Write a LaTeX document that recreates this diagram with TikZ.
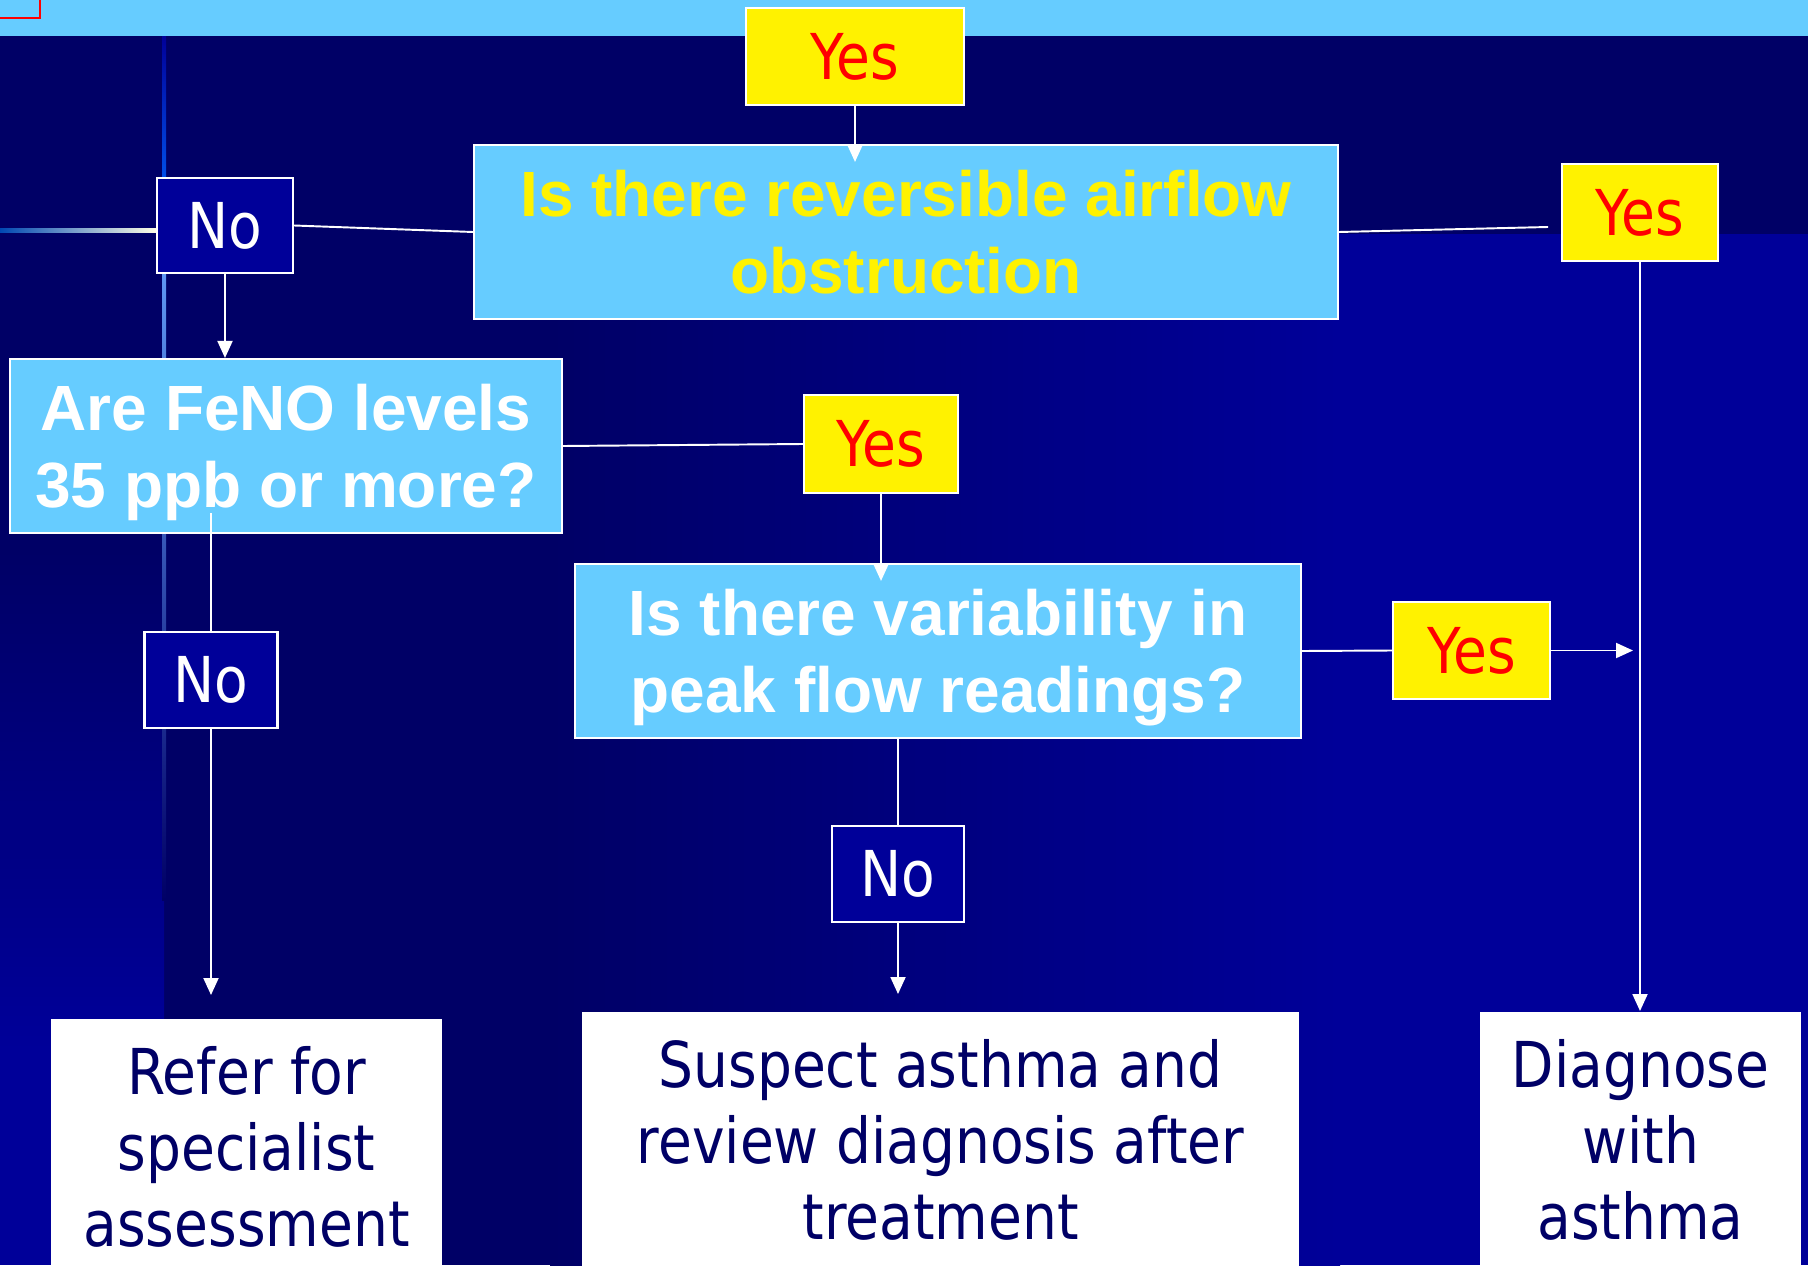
\documentclass[tikz,border=0pt]{standalone}
\usepackage{fontspec}
\setmainfont{Liberation Sans}
\newfontfamily\tahfont{DejaVu Sans}[FakeStretch=0.87]
\usetikzlibrary{arrows.meta}

\definecolor{slidenavy}{HTML}{000066}
\definecolor{slideblue}{HTML}{000099}
\definecolor{skyblue}{HTML}{66CCFF}
\definecolor{glowblue}{HTML}{0066FF}
\newcommand{\qfont}{\fontsize{18.2}{21.9}\selectfont\bfseries}
\newcommand{\lblfont}{\tahfont\fontsize{18}{21.6}\selectfont}

\begin{document}
\begin{tikzpicture}[
        qbox/.style={draw=white, line width=0.6pt, fill=skyblue, align=center, font=\qfont, minimum height=1.74cm, inner sep=0pt, text depth=0pt},
        yesbox/.style={draw=white, line width=0.6pt, fill=yellow, text=red, font=\lblfont, inner sep=0pt},
        nobox/.style={draw=white, line width=0.6pt, fill=slideblue, text=white, font=\lblfont, inner sep=0pt, minimum width=1.33cm, minimum height=0.96cm},
        endbox/.style={fill=white, anchor=north, minimum height=3cm},
        endtext/.style={anchor=north, align=center, text=slidenavy, font=\lblfont, inner ysep=0.28cm},
        conn/.style={draw=white, line width=0.55pt},
        arr/.style={conn, -{Triangle[width=0.15cm, length=0.17cm]}}
    ]
        \useasboundingbox (0,0) rectangle (18.08,-12.65);
        \clip (0,0) rectangle (18.08,-12.65);

        % slide background
        \fill[slidenavy] (0,0) rectangle (18.08,-12.65);
        \shade[left color=slidenavy, right color=slideblue] (5.5,-2.34) rectangle (13.4,-12.65);
        \fill[slideblue] (13.4,-2.34) rectangle (18.08,-12.65);
        \shade[top color=slidenavy, bottom color=slideblue] (0,-5.5) rectangle (1.64,-10.5);
        \fill[slideblue] (0,-10.5) rectangle (1.64,-12.65);
        \shade[top color=slideblue, bottom color=glowblue] (1.62,-0.36) rectangle (1.66,-2.2);
        \shade[top color=glowblue!60!white, bottom color=slidenavy] (1.62,-2.2) rectangle (1.66,-9);
        \shade[left color=glowblue!70!black, right color=white!90!yellow] (0,-2.285) rectangle (1.57,-2.325);
        \fill[skyblue] (0,0) rectangle (18.08,-0.36);
        \draw[red, line width=0.6pt] (-0.1,0.1) rectangle (0.40,-0.18);

        % questions and answers
        \node[yesbox, minimum width=2.18cm, minimum height=0.97cm] (yes1) at (8.55,-0.565) {Yes};
        \node[qbox, text=yellow, minimum width=8.64cm] (q1) at (9.06,-2.32) {Is there reversible airflow\\obstruction};
        \node[nobox, minimum width=1.36cm, minimum height=0.95cm] (no1) at (2.25,-2.255) {No};
        \node[yesbox, minimum width=1.56cm, minimum height=0.97cm] (yes2) at (16.40,-2.125) {Yes};
        \node[qbox, text=white, minimum width=5.52cm] (q2) at (2.86,-4.46) {Are FeNO levels\\35 ppb or more?};
        \node[yesbox, minimum width=1.54cm, minimum height=0.98cm] (yes3) at (8.81,-4.44) {Yes};
        \node[qbox, text=white, minimum width=7.26cm] (q3) at (9.38,-6.51) {Is there variability in\\peak flow readings?};
        \node[yesbox, minimum width=1.57cm, minimum height=0.97cm] (yes4) at (14.715,-6.505) {Yes};
        \node[nobox] (no2) at (2.11,-6.80) {No};
        \node[nobox, minimum width=1.32cm] (no3) at (8.98,-8.74) {No};

        % outcomes
        \node[endbox, minimum width=3.91cm] (refer) at (2.465,-10.18) {};
        \node[endtext] (refertext) at (refer.north) {Refer for\\specialist\\assessment};
        \node[endbox, minimum width=7.17cm] (suspect) at (9.405,-10.11) {};
        \node[endtext] (suspecttext) at (suspect.north) {Suspect asthma and\\review diagnosis after\\treatment};
        \node[endbox, minimum width=3.21cm] (diag) at (16.405,-10.11) {};
        \node[endtext] (diagtext) at (diag.north) {Diagnose\\with\\asthma};

        \coordinate (yes2in) at (15.48,-2.27);
        \coordinate (q2out) at (2.11,-5.13);
        \coordinate (diagline) at (16.33,-6.505);

        % connectors
        \draw[arr, shorten >=-0.18cm] (yes1.south) -- (yes1.south |- q1.north);
        \draw[conn] (no1.east) -- (q1.west);
        \draw[conn] (q1.east) -- (yes2in);
        \draw[arr] (yes2.south) -- (yes2.south |- diag.north);
        \draw[arr] (no1.south) -- (no1.south |- q2.north);
        \draw[conn] (q2.east) -- (yes3.west);
        \draw[arr, shorten >=-0.18cm] (yes3.south) -- (yes3.south |- q3.north);
        \draw[conn] (q3.east) -- (yes4.west);
        \draw[arr] (yes4.east) -- (diagline);
        \draw[conn] (q2out) -- (no2.north);
        \draw[arr, shorten >=0.23cm] (no2.south) -- (no2.south |- refer.north);
        \draw[conn] (no3.north |- q3.south) -- (no3.north);
        \draw[arr, shorten >=0.17cm] (no3.south) -- (no3.south |- suspect.north);
    \end{tikzpicture}
\end{document}
